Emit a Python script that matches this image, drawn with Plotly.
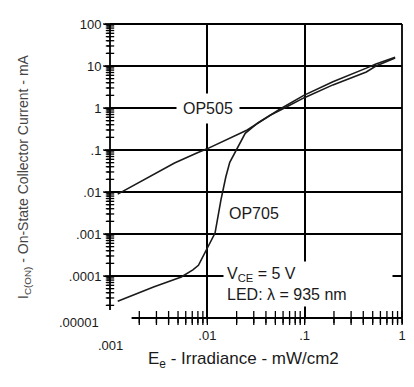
import math
import plotly.graph_objects as go

# ---- data ----
op505_x = [0.0012, 0.0019, 0.0030, 0.0046, 0.0078, 0.0098, 0.0257, 0.056, 0.098, 0.195, 0.43, 0.54, 0.85]
op505_y = [0.0089, 0.016, 0.028, 0.049, 0.085, 0.105, 0.30, 0.95, 2.0, 4.2, 8.9, 11.2, 16.2]

op705_x = [0.0012, 0.0028, 0.0054, 0.0071, 0.0081, 0.0107, 0.012, 0.0138, 0.0155, 0.017,
           0.0204, 0.0245, 0.033, 0.0447, 0.062, 0.098, 0.195, 0.43, 0.54, 0.85]
op705_y = [2.5e-5, 5.5e-5, 9.5e-5, 1.4e-4, 1.8e-4, 6.2e-4, 1.05e-3, 6.5e-3, 0.023, 0.051,
           0.117, 0.25, 0.44, 0.68, 1.0, 1.74, 3.55, 7.2, 10.0, 15.5]

x_tickvals = [0.01, 0.1, 1]
x_ticktext = [".01", ".1", "1"]
y_tickvals = [1e-4, 1e-3, 1e-2, 1e-1, 1, 10, 100]
y_ticktext = [".0001", ".001", ".01", ".1", "1", "10", "100"]

# minor (log) tick positions: 2..9 within each decade
x_minor = [m * 10.0 ** e for e in range(-3, 0) for m in range(2, 10)]
y_minor = [m * 10.0 ** e for e in range(-5, 2) for m in range(2, 10)]

X_RANGE = [-3, 0]   # log10 axis ranges
Y_RANGE = [-5, 2]

FONT = "Liberation Sans, Arial, sans-serif"
INK = "#1a1a1a"

fig = go.Figure()
for xs, ys in [(op505_x, op505_y), (op705_x, op705_y)]:
    fig.add_trace(go.Scatter(x=xs, y=ys, mode="lines",
                             line=dict(color=INK, width=1.6), showlegend=False,
                             hoverinfo="skip"))

# tick marks as unclipped line markers sitting on the axes
x_ticks_all = x_tickvals + x_minor
fig.add_trace(go.Scatter(x=x_ticks_all, y=[10.0 ** Y_RANGE[0]] * len(x_ticks_all),
                         mode="markers", cliponaxis=False, showlegend=False, hoverinfo="skip",
                         marker=dict(symbol="line-ns", size=10, color="black",
                                     line=dict(width=1.3, color="black"))))
fig.add_trace(go.Scatter(x=[10.0 ** X_RANGE[0]] * len(y_tickvals), y=y_tickvals,
                         mode="markers", cliponaxis=False, showlegend=False, hoverinfo="skip",
                         marker=dict(symbol="line-ew", size=10, color="black",
                                     line=dict(width=1.3, color="black"))))
fig.add_trace(go.Scatter(x=[10.0 ** X_RANGE[0]] * len(y_minor), y=y_minor,
                         mode="markers", cliponaxis=False, showlegend=False, hoverinfo="skip",
                         marker=dict(symbol="line-ew", size=6, color="black",
                                     line=dict(width=1.3, color="black"))))

fig.update_layout(
    width=406, height=379,
    margin=dict(l=102, r=8, t=16, b=69),
    paper_bgcolor="white", plot_bgcolor="white",
    font=dict(family=FONT, color=INK, size=13),
    xaxis=dict(type="log", range=X_RANGE, tickmode="array",
               tickvals=x_tickvals, ticktext=x_ticktext,
               showgrid=True, gridcolor="black", gridwidth=1.6,
               showline=False, zeroline=False,
               ticks="outside", ticklen=5, tickcolor="black", tickwidth=1.4,
               tickfont=dict(size=13, color=INK)),
    yaxis=dict(type="log", range=Y_RANGE, tickmode="array",
               tickvals=y_tickvals, ticktext=y_ticktext,
               showgrid=True, gridcolor="black", gridwidth=1.6,
               showline=False, zeroline=False,
               ticks="outside", ticklen=5, tickcolor="black", tickwidth=1.4,
               tickfont=dict(size=13, color=INK)),
)


def xfrac(v):
    return (math.log10(v) - X_RANGE[0]) / (X_RANGE[1] - X_RANGE[0])


def yfrac(v):
    return (math.log10(v) - Y_RANGE[0]) / (Y_RANGE[1] - Y_RANGE[0])


# tick marks outside the plot area (paper-referenced so they are not clipped)
tick_line = dict(color="black", width=1.3)
for v in x_tickvals + x_minor:
    p = xfrac(v)
    fig.add_shape(type="line", xref="paper", x0=p, x1=p, yref="paper", ysizemode="pixel",
                  yanchor=0, y0=-5, y1=0, line=tick_line)
for v in y_tickvals:
    p = yfrac(v)
    fig.add_shape(type="line", yref="paper", y0=p, y1=p, xref="paper", xsizemode="pixel",
                  xanchor=0, x0=-5, x1=0, line=tick_line)
for v in y_minor:
    p = yfrac(v)
    fig.add_shape(type="line", yref="paper", y0=p, y1=p, xref="paper", xsizemode="pixel",
                  xanchor=0, x0=-3, x1=0, line=tick_line)

# frame lines (detached axis style)
line = dict(color="black", width=1.8)
fig.add_shape(type="line", xref="paper", yref="paper", x0=0, x1=0, y0=0.027, y1=1, line=line)
fig.add_shape(type="line", xref="paper", yref="paper", x0=0.074, x1=1, y0=0, y1=0, line=line)
fig.add_shape(type="line", xref="paper", yref="paper", x0=0, x1=1, y0=1, y1=1, line=line)
fig.add_shape(type="line", xref="paper", yref="paper", x0=1, x1=1, y0=0, y1=1, line=line)

# extra tick labels
fig.add_annotation(text=".001", xref="x", x=-3, xanchor="center", yref="paper", y=0,
                   yanchor="top", yshift=-18, showarrow=False, font=dict(size=13, color=INK))
fig.add_annotation(text=".00001", xref="paper", x=0, xanchor="right", xshift=-9,
                   yref="y", y=-5, yshift=-4, showarrow=False, font=dict(size=13, color=INK))

# axis titles
fig.add_annotation(text="E<sub>e</sub> - Irradiance - mW/cm2", xref="paper", x=0.456,
                   xanchor="center", yref="paper", y=0, yshift=-55, showarrow=False,
                   font=dict(size=17, color=INK))
fig.add_annotation(text="I<sub>C(ON)</sub> - On-State Collector Current - mA", xref="paper", x=0,
                   xanchor="center", xshift=-86, yref="paper", y=0.48, textangle=-90,
                   showarrow=False, font=dict(size=14, color="#444"))

# curve labels
fig.add_annotation(text="OP505", xref="x", x=-1.99, yref="y", y=0, showarrow=False,
                   bgcolor="white", borderpad=6, font=dict(size=16, color=INK))
fig.add_annotation(text="OP705", xref="x", x=-1.525, yref="y", y=-2.5, showarrow=False,
                   font=dict(size=16, color=INK))
fig.add_annotation(text="V<sub>CE</sub> = 5 V<br>LED: \u03bb = 935 nm", xref="x", x=-1.84,
                   xanchor="left", yref="y", y=-4.19, showarrow=False, align="left",
                   width=162, bgcolor="white", borderpad=3, font=dict(size=16, color=INK))

fig.write_html("out.html")
